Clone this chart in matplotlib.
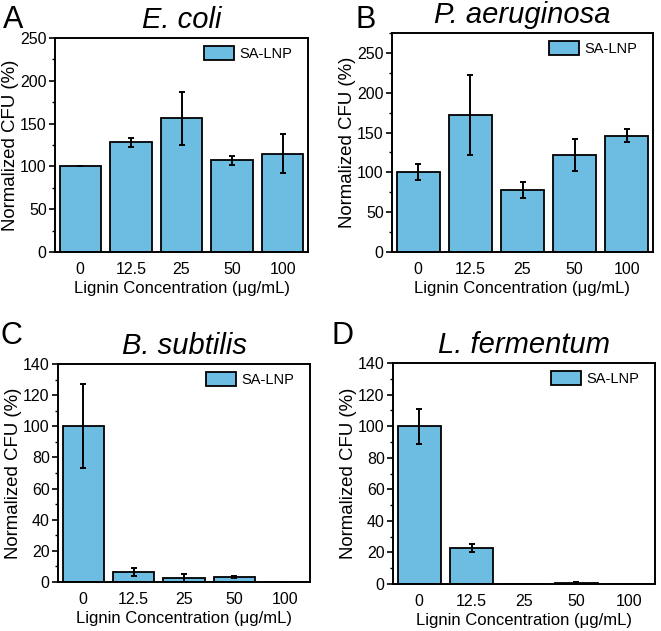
import numpy as np
import matplotlib
matplotlib.use("Agg")
from matplotlib import pyplot as plt
from matplotlib.ticker import MultipleLocator

plt.rcParams['font.family'] = ['Liberation Sans', 'DejaVu Sans']

categories = ["0", "12.5", "25", "50", "100"]

ecoli_vals = [100, 128, 156, 107, 115]
ecoli_err = [0, 5.5, 31, 5.5, 23]

paer_vals = [100, 172, 78, 122, 146]
paer_err = [10, 50, 10, 20, 8]

bsub_vals = [100, 6.2, 2.6, 3.2, 0]
bsub_err = [27, 2.6, 2.3, 0.9, 0]

lferm_vals = [100, 23, 0.2, 0.8, 0]
lferm_err = [11, 2.5, 0, 0.4, 0]

bar_color = "#6dbde2"
W, H = 661, 631

panels = [
    # letter, title, values, errors, (left, right, top, bottom) px, ylim, major, minor, letter pos
    ("A", "E. coli", ecoli_vals, ecoli_err, (55, 308, 38, 252), 250, 50, 25, (3, 28)),
    ("B", "P. aeruginosa", paer_vals, paer_err, (392, 653, 33, 252), 275, 50, 25, (355, 28)),
    ("C", "B. subtilis", bsub_vals, bsub_err, (58, 310, 364, 582), 140, 20, 10, (1, 344)),
    ("D", "L. fermentum", lferm_vals, lferm_err, (393, 655, 363, 584), 140, 20, 10, (332, 344)),
]

fig = plt.figure(figsize=(W / 100, H / 100), dpi=100)

for letter, title, vals, errs, (l, r, t, b), ymax, major, minor, (lx, ly) in panels:
    ax = fig.add_axes([l / W, 1 - b / H, (r - l) / W, (b - t) / H])
    x = np.arange(len(categories))
    ax.bar(x, vals, 0.82, color=bar_color, edgecolor="black", linewidth=1.3,
           label="SA-LNP", zorder=2)
    ax.errorbar(x, vals, yerr=errs, fmt="none", ecolor="black", elinewidth=1.4,
                capsize=2.5, capthick=1.4, zorder=3)
    ax.set_xlim(-0.5, 4.5)
    ax.set_ylim(0, ymax)
    ax.set_xticks(x)
    ax.set_xticklabels(categories)
    ax.yaxis.set_major_locator(MultipleLocator(major))
    ax.yaxis.set_minor_locator(MultipleLocator(minor))
    ax.tick_params(axis="both", which="major", labelsize=11.5, direction="out",
                   length=4, width=1.2, pad=2)
    ax.tick_params(axis="y", which="minor", direction="out", length=2.5, width=1)
    ax.tick_params(axis="x", which="both", bottom=False, pad=3)
    for sp in ax.spines.values():
        sp.set_linewidth(1.4)
    ax.set_xlabel("Lignin Concentration (μg/mL)", fontsize=12, labelpad=3)
    ax.set_ylabel("Normalized CFU (%)", fontsize=13.4, labelpad=1)
    ax.set_title(title, fontsize=21, style="italic", pad=7)
    ax.legend(loc="upper right", bbox_to_anchor=(0.97, 1.0), frameon=False,
              fontsize=10.5, handlelength=2.1, handleheight=1.1,
              borderaxespad=0.15, handletextpad=0.35)
    fig.text(lx / W, 1 - ly / H, letter, fontsize=22, ha="left", va="baseline")

plt.savefig("out.png", dpi=100)
